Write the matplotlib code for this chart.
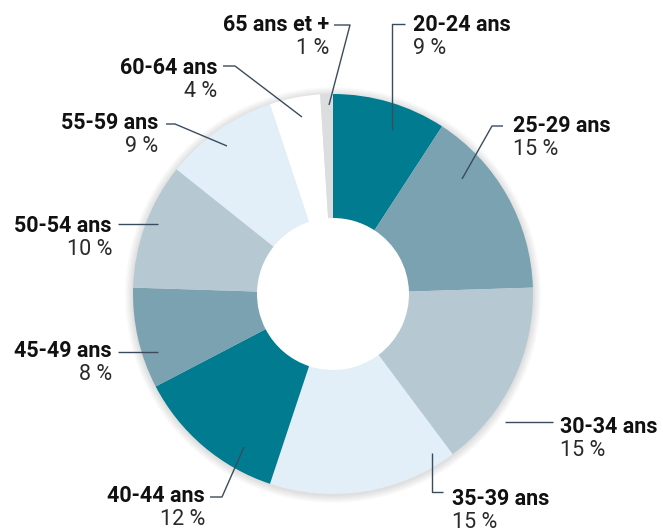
import matplotlib.pyplot as plt
from matplotlib.patches import Circle

plt.rcParams['font.family'] = ['Roboto', 'DejaVu Sans']

W, H = 663, 529  # figure in pixels, axes in pixel units

# data
ages = ["20-24 ans", "25-29 ans", "30-34 ans", "35-39 ans", "40-44 ans",
        "45-49 ans", "50-54 ans", "55-59 ans", "60-64 ans", "65 ans et +"]
shares = [9, 15, 15, 15, 12, 8, 10, 9, 4, 1]
pct_labels = [f"{v} %" for v in shares]

colors = ["#007b8f", "#7aa2b1", "#b6c9d3", "#e2eff8", "#007b8f",
          "#7aa2b1", "#b6c9d3", "#e2eff8", "#ffffff", "#dcdddf"]

# layout (pixels, y downwards)
cx, cy = 333, 294
R_OUT, R_IN = 200, 76
# label anchor: x, baseline y, alignment
label_pos = [(413, 31, 'left'), (513, 132, 'left'), (560, 433, 'left'),
             (452, 505, 'left'), (205, 502, 'right'), (112, 357, 'right'),
             (112, 232, 'right'), (158, 129, 'right'), (217, 74, 'right'),
             (329, 31, 'right')]
leaders = [
    [(405, 24), (392, 24), (392, 130)],
    [(503, 126), (492, 126), (462, 179)],
    [(553, 422), (505, 422)],
    [(443, 492), (432, 492), (432, 453)],
    [(210, 497), (222, 497), (244, 447)],
    [(118, 352), (158, 352)],
    [(118, 224), (158, 224)],
    [(166, 124), (175, 124), (227, 146)],
    [(223, 66), (235, 66), (302, 117)],
    [(334, 25), (350, 25), (329, 105)],
]
line_col = "#3b4b5e"

fig = plt.figure(figsize=(W / 100, H / 100), dpi=100)
ax = fig.add_axes([0, 0, 1, 1])

def fy(y):
    return H - y

# soft shadow round the ring, white hole on top of it
for k in range(1, 9):
    ax.add_patch(Circle((cx, fy(cy) - 1), R_OUT + k, color='black',
                        alpha=0.016, lw=0, zorder=0))
ax.add_patch(Circle((cx, fy(cy)), R_IN + 1, color='white', lw=0, zorder=0.5))

ax.pie(shares, colors=colors, startangle=90, counterclock=False,
       center=(cx, fy(cy)), radius=R_OUT, frame=True,
       wedgeprops=dict(width=R_OUT - R_IN, linewidth=0))
ax.set_xlim(0, W)
ax.set_ylim(0, H)
ax.set_aspect('equal')
ax.axis('off')

for name, pct, (x, y, ha), pts in zip(ages, pct_labels, label_pos, leaders):
    ax.text(x, fy(y), name, ha=ha, va='baseline', fontsize=15.5,
            fontweight='bold', color='#111111')
    ax.text(x, fy(y + 23), pct, ha=ha, va='baseline', fontsize=15.5,
            fontweight='normal', color='#2a2a2a')
    xs = [p[0] for p in pts]
    ys = [fy(p[1]) for p in pts]
    ax.plot(xs, ys, color=line_col, lw=1.0, solid_capstyle='butt', zorder=5)

fig.savefig('out.png', dpi=100)
